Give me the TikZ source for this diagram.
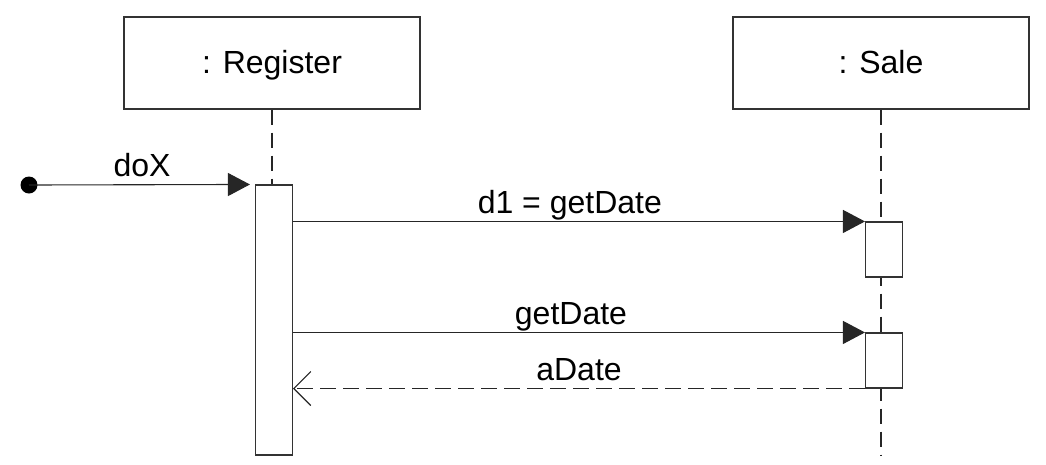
\documentclass[tikz,border=0pt]{standalone}
\usepackage{fontspec}
\setmainfont{Liberation Sans}
\usetikzlibrary{arrows.meta}
\begin{document}
\begin{tikzpicture}[x=1pt,y=-1pt,
  line width=1.1pt,
  objbox/.style={draw=black!80, fill=white, minimum width=296pt, minimum height=92pt, inner sep=0pt,
    text height=24pt, text depth=4pt, font=\fontsize{32}{38}\selectfont},
  actbox/.style={draw=black!80, fill=white, minimum width=37pt, inner sep=0pt},
  lifeline/.style={draw=black!85, dash pattern=on 15pt off 8pt},
  msg/.style={draw=black!85, -{Triangle[length=22pt,width=23pt]}},
  retmsg/.style={draw=black!85, dash pattern=on 16pt off 7pt, -{Straight Barb[length=17pt,width=34pt,line width=1.1pt]}},
  lbl/.style={anchor=base, yshift=8pt, font=\fontsize{32}{38}\selectfont, inner sep=0pt}
]
\useasboundingbox (0,0) rectangle (1046,464);

% objects
\node[objbox] (reg) at (272,63) {: Register};
\node[objbox] (sale) at (881,63) {: Sale};

% lifeline ends
\coordinate (regtop) at (272,185);
\coordinate (saleend) at (881,455);

\draw[lifeline] (reg.south) -- (regtop);
\draw[lifeline] (sale.south) -- (saleend);

% activations
\node[actbox, minimum height=270pt] (regact) at (274,320) {};
\node[actbox, minimum height=55pt] (saleact1) at (884,249.5) {};
\node[actbox, minimum height=55pt] (saleact2) at (884,360.5) {};

% start dot
\node[circle, fill=black, inner sep=0pt, minimum size=17pt] (start) at (29,185) {};

% messages
\draw[msg, shorten >=5pt] (start.center) -- (regact.north west)
  node[lbl, pos=0.5] {doX};
\draw[msg] (regact.east |- saleact1.north west) -- (saleact1.north west)
  node[lbl, pos=0.484] {d1 = getDate};
\draw[msg] (regact.east |- saleact2.north west) -- (saleact2.north west)
  node[lbl, pos=0.486] {getDate};
\draw[retmsg] (saleact2.south west) -- (regact.east |- saleact2.south west)
  node[lbl, pos=0.5] {aDate};
\end{tikzpicture}
\end{document}
